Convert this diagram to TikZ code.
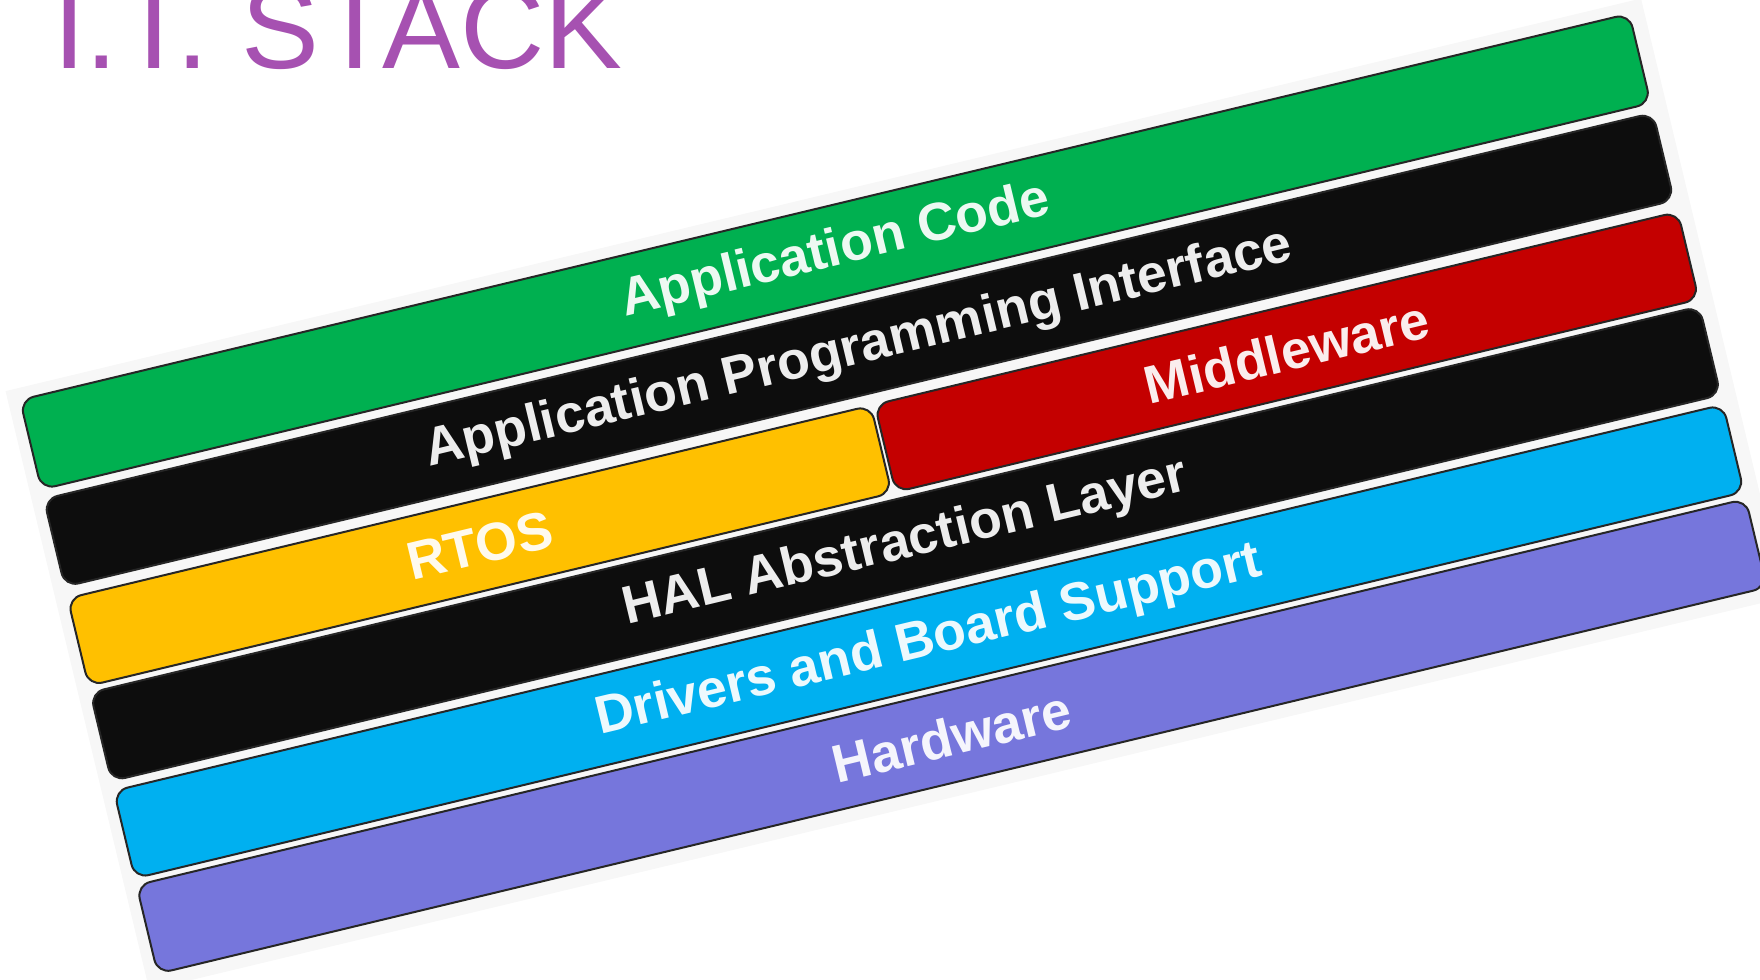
\documentclass[tikz,border=0pt]{standalone}
\usepackage{fontspec}
\setmainfont{Liberation Sans}
\definecolor{titlepurple}{HTML}{A651B1}
\definecolor{layergreen}{HTML}{00B050}
\definecolor{layerblack}{HTML}{0D0D0D}
\definecolor{layeryellow}{HTML}{FFC000}
\definecolor{layerred}{HTML}{C40000}
\definecolor{layerblue}{HTML}{00B0F0}
\definecolor{layerpurple}{HTML}{7676DC}
\begin{document}
\begin{tikzpicture}[x=0.5pt,y=-0.5pt,
  layer/.style={draw=black!85, line width=1pt, rounded corners=7pt,
    inner sep=0pt, text=white, text opacity=0.93,
    font=\fontsize{26.7}{32}\selectfont\bfseries},
  fullbar/.style={minimum width=827.5pt},
  halfbar/.style={minimum width=413pt}]
\clip (0,0) rectangle (1760,979);
% heading
\node[anchor=base west, inner sep=0pt, text=titlepurple,
  font=\fontsize{58.4}{64}\selectfont] (title) at (53,69) {I.T. STACK};
% the tilted layer stack
\begin{scope}[shift={(20,400)}, rotate=13.5, transform shape]
  \fill[black!3] (-12,-12) rectangle (1670,604);
  \node[layer, fullbar, minimum height=46pt, fill=layergreen] (app) at (827.5,46) {Application Code};
  \node[layer, fullbar, minimum height=45pt, fill=layerblack] (api) at (827.5,147) {Application Programming Interface};
  \node[layer, halfbar, minimum height=45pt, fill=layeryellow] (rtos) at (413,249) {RTOS};
  \node[layer, halfbar, minimum height=45pt, fill=layerred] (mid) at (1243,249) {Middleware};
  \node[layer, fullbar, minimum height=45.5pt, fill=layerblack] (hal) at (827.5,346.5) {HAL Abstraction Layer};
  \node[layer, fullbar, minimum height=45pt, fill=layerblue] (drv) at (827.5,447) {Drivers and Board Support};
  \node[layer, fullbar, minimum height=45.5pt, fill=layerpurple] (hw) at (827.5,544.5) {Hardware};
\end{scope}
\end{tikzpicture}
\end{document}
